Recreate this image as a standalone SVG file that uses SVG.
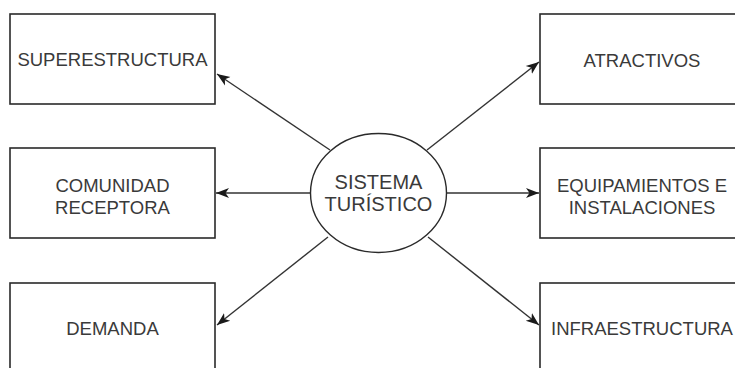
<svg xmlns="http://www.w3.org/2000/svg" width="735" height="368" viewBox="0 0 735 368">
<style>
.box{fill:#ffffff;stroke:#2a2a2a;stroke-width:1.6}
.ell{fill:#ffffff;stroke:#2a2a2a;stroke-width:1.4}
.lbl{font-family:"Liberation Sans",Arial,sans-serif;font-size:18.5px;fill:#3a3a3a;text-anchor:middle}
.big{font-size:20px}
.edge{fill:none;stroke:#333333;stroke-width:1.4;marker-end:url(#arr)}
</style>
<defs>
<marker id="arr" markerUnits="userSpaceOnUse" markerWidth="14" markerHeight="12" viewBox="0 0 14 12" refX="13" refY="6" orient="auto">
<path d="M0,1 L13,6 L0,11 L3.5,6 Z" fill="#1a1a1a"/>
</marker>
</defs>
<rect width="735" height="368" fill="#ffffff"/>
<g id="connectors">
<line class="edge" x1="330" y1="150" x2="217" y2="74"/>
<line class="edge" x1="310" y1="193" x2="216" y2="193"/>
<line class="edge" x1="328" y1="237" x2="217" y2="325"/>
<line class="edge" x1="427" y1="150" x2="539" y2="62"/>
<line class="edge" x1="446" y1="193" x2="539" y2="193"/>
<line class="edge" x1="428" y1="237" x2="539" y2="325"/>
</g>
<g id="superestructura">
<rect class="box" x="10" y="14" width="205" height="90"/>
<text class="lbl" x="112.5" y="66">SUPERESTRUCTURA</text>
</g>
<g id="comunidad">
<rect class="box" x="10" y="148" width="205" height="90"/>
<text class="lbl" x="112.5" y="192">COMUNIDAD</text>
<text class="lbl" x="112.5" y="213.5">RECEPTORA</text>
</g>
<g id="demanda">
<rect class="box" x="10" y="283" width="205" height="90"/>
<text class="lbl" x="112.5" y="335">DEMANDA</text>
</g>
<g id="atractivos">
<rect class="box" x="540" y="14" width="205" height="90"/>
<text class="lbl" x="642" y="66.5">ATRACTIVOS</text>
</g>
<g id="equipamientos">
<rect class="box" x="540" y="148" width="205" height="90"/>
<text class="lbl" x="642" y="192">EQUIPAMIENTOS E</text>
<text class="lbl" x="642" y="213.5">INSTALACIONES</text>
</g>
<g id="infraestructura">
<rect class="box" x="540" y="283" width="205" height="90"/>
<text class="lbl" x="642" y="335">INFRAESTRUCTURA</text>
</g>
<g id="sistema">
<ellipse class="ell" cx="378.5" cy="193" rx="68" ry="59.5"/>
<text class="lbl big" x="378.5" y="189">SISTEMA</text>
<text class="lbl big" x="378.5" y="211">TURÍSTICO</text>
</g>
</svg>
